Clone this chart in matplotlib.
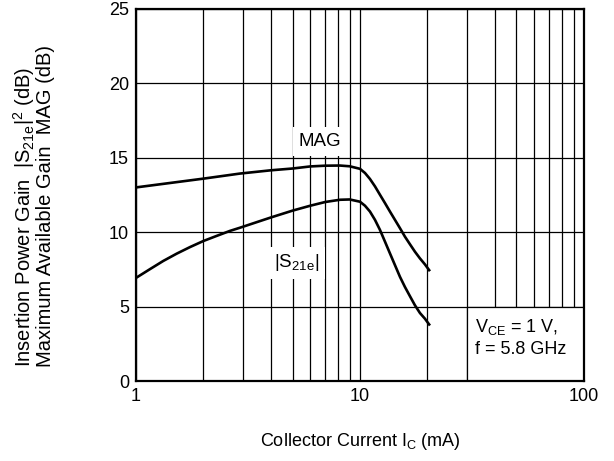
import numpy as np
import matplotlib
matplotlib.use("Agg")
import matplotlib.pyplot as plt
from matplotlib.patches import Rectangle

plt.rcParams['font.family'] = ['Liberation Sans', 'DejaVu Sans']
plt.rcParams['mathtext.fontset'] = 'custom'
plt.rcParams['mathtext.rm'] = 'Liberation Sans'

# collector current (mA) and maximum available gain (dB)
ic_mag = [1, 2, 2.91, 4, 5, 6, 7, 8.14, 9.0, 10, 10.53, 11.08, 11.67, 12.28, 12.93,
          13.61, 14.33, 15.09, 15.88, 16.72, 17.6, 18.53, 19.5, 20.37]
mag = [13.01, 13.6, 13.94, 14.16, 14.28, 14.42, 14.47, 14.48, 14.43, 14.26, 13.98, 13.58,
       13.08, 12.52, 11.96, 11.39, 10.83, 10.27, 9.7, 9.19, 8.69, 8.24, 7.84, 7.45]

# collector current (mA) and insertion power gain |S21e|^2 (dB)
ic_s21 = [1, 1.155, 1.324, 1.52, 1.742, 2, 2.29, 2.63, 2.91, 4, 5, 6, 7, 8.14, 9.0, 10,
          10.53, 11.08, 11.67, 12.28, 12.93, 13.61, 14.33, 15.09, 15.88, 16.72, 17.6,
          18.53, 19.5, 20.37]
s21 = [6.93, 7.52, 8.07, 8.56, 9.0, 9.41, 9.75, 10.09, 10.3, 10.99, 11.45, 11.78, 12.03,
       12.18, 12.2, 12.05, 11.78, 11.39, 10.83, 10.16, 9.37, 8.58, 7.79, 7.0, 6.32, 5.7,
       5.09, 4.57, 4.19, 3.8]

fig = plt.figure(figsize=(6.14, 4.61), dpi=100)
ax = fig.add_axes([0.2215, 0.1735, 0.7295, 0.807])

ax.set_xscale('log')
ax.set_xlim(1, 100)
ax.set_ylim(0, 25)
ax.set_yticks([0, 5, 10, 15, 20, 25])
ax.set_xticks([1, 10, 100])
ax.set_xticklabels(['1', '10', '100'])
ax.set_xticks([2, 3, 4, 5, 6, 7, 8, 9, 20, 30, 40, 50, 60, 70, 80, 90], minor=True)
ax.xaxis.set_minor_formatter(plt.NullFormatter())

ax.set_axisbelow(True)
ax.grid(True, which='both', color='black', lw=0.9)
ax.tick_params(which='both', length=0, labelsize=13, pad=5)

for s in ax.spines.values():
    s.set_linewidth(1.6)

# white box in the lower right for the conditions
ax.add_patch(Rectangle((30, 0), 70, 5, facecolor='white', edgecolor='black', lw=0.9, zorder=1))

ax.plot(ic_mag, mag, color='black', lw=1.9, zorder=2)
ax.plot(ic_s21, s21, color='black', lw=1.9, zorder=2)

ax.text(6.6, 16.1, 'MAG', fontsize=13.5, ha='center', va='center', zorder=3,
        bbox=dict(facecolor='white', edgecolor='none', pad=4))
ax.text(5.2, 7.95, r'|S$_{\mathregular{21e}}$|', fontsize=13.5, ha='center', va='center', zorder=3,
        bbox=dict(facecolor='white', edgecolor='none', pad=4))
ax.text(32.5, 2.9, 'V$_{\\mathregular{CE}}$ = 1 V,\nf = 5.8 GHz', fontsize=13,
        ha='left', va='center', zorder=3, linespacing=1.3)

ax.set_xlabel(r'Collector Current I$_{\mathregular{C}}$ (mA)', fontsize=13, labelpad=19)
ax.set_ylabel('Insertion Power Gain  |S$_{\\mathregular{21e}}$|$^{\\mathregular{2}}$ (dB)\n'
              'Maximum Available Gain  MAG (dB)', fontsize=14.5, multialignment='left',
              linespacing=0.92)
ax.yaxis.set_label_coords(-0.181, 0.47)

fig.savefig('out.png', dpi=100)
